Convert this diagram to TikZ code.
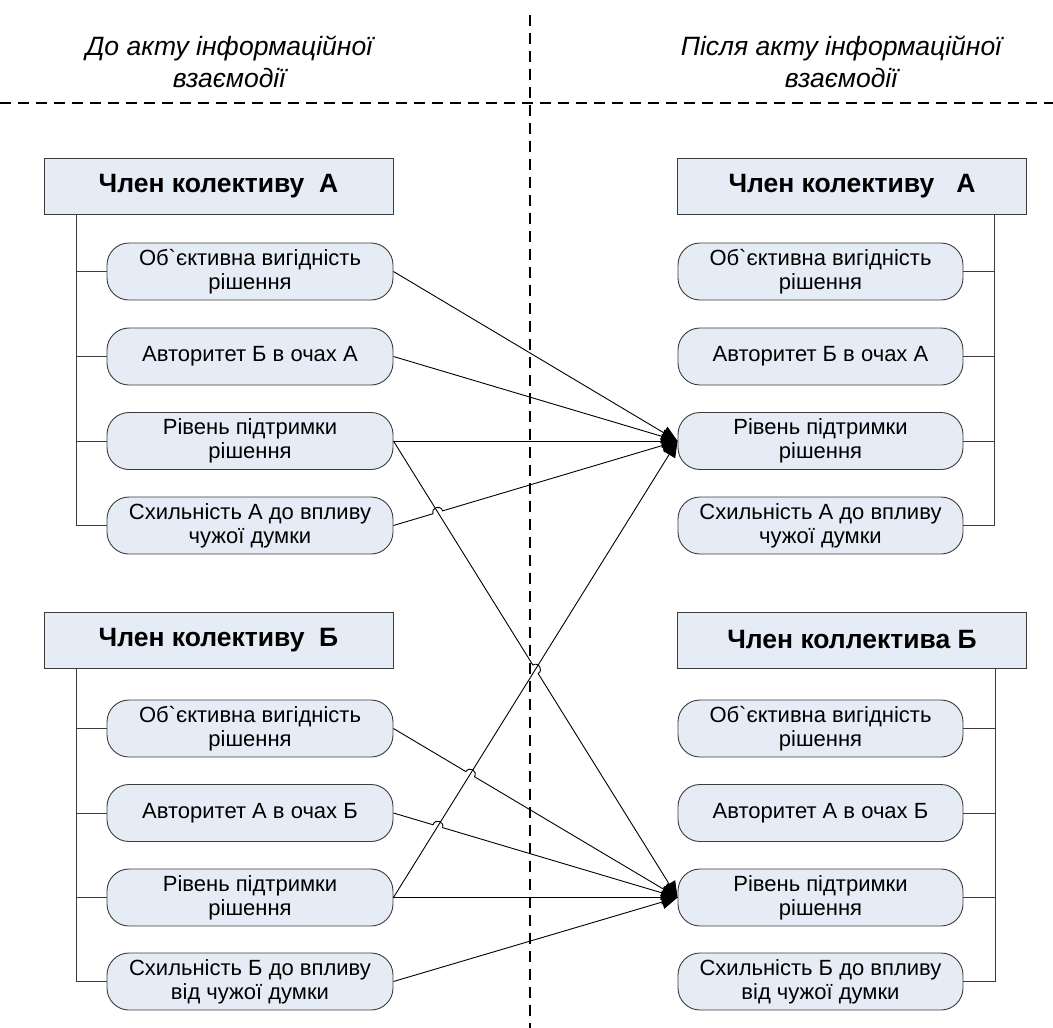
\documentclass[tikz,border=0pt]{standalone}
\usepackage{fontspec}
\newfontfamily\diafont{Liberation Sans}
\usetikzlibrary{arrows.meta,calc,intersections}
\definecolor{boxfill}{RGB}{230,236,246}
\definecolor{boxline}{RGB}{60,60,60}

% connector from #1 to #2 that hops over another connector at coordinate #3
\newcommand\linkhop[3]{%
  \coordinate (hopa) at ($(#3)!5pt!(#1.east)$);
  \coordinate (hopb) at ($(#3)!5pt!(#2.west)$);
  \coordinate (hopca) at ($(hopa)!6.67pt!90:(#3)$);
  \coordinate (hopcb) at ($(hopb)!6.67pt!-90:(#3)$);
  \draw[link] (#1.east) -- (hopa) .. controls (hopca) and (hopcb) .. (hopb) -- (#2.west);
}

\begin{document}
\begin{tikzpicture}[x=1pt,y=-1pt,
  titlebox/.style={draw=boxline, fill=boxfill, line width=0.9pt,
    minimum width=349pt, minimum height=56pt, inner sep=0pt,
    font=\diafont\bfseries\fontsize{26.5}{30}\selectfont},
  pill/.style={draw=boxline, fill=boxfill, line width=0.9pt,
    rounded corners=22pt, minimum width=286pt, minimum height=57pt,
    inner sep=0pt, align=center,
    font=\diafont\fontsize{22}{24}\selectfont},
  heading/.style={font=\diafont\itshape\fontsize{26.5}{32}\selectfont,
    align=center, inner sep=0pt},
  divider/.style={line width=1.2pt, dash pattern=on 11pt off 7pt},
  tree/.style={draw=boxline, line width=0.9pt},
  link/.style={line width=0.9pt, -{Triangle[length=16pt,width=14pt]}},
]
\useasboundingbox (0,0) rectangle (1053,1028);

% dividers
\coordinate (vtop) at (530,15);
\coordinate (vbot) at (530,1028);
\coordinate (hl) at (0,103);
\coordinate (hr) at (1053,103);
\draw[divider] (vtop) -- (vbot);
\draw[divider] (hl) -- (hr);

% headings
\node[heading] (headL) at (229,62) {До акту інформаційної\\взаємодії};
\node[heading] (headR) at (841,62) {Після акту інформаційної\\взаємодії};

% member A, before
\node[titlebox] (la) at (218.5,186) {Член колективу~~А};
\node[pill] (la1) at (250,271.5) {Об`єктивна вигідність\\рішення};
\node[pill] (la2) at (250,356.5) {Авторитет Б в очах А};
\node[pill] (la3) at (250,441) {Рівень підтримки\\рішення};
\node[pill] (la4) at (250,525.5) {Схильність А до впливу\\чужої думки};

% member B, before
\node[titlebox] (lb) at (218.5,640) {Член колективу~~Б};
\node[pill] (lb1) at (250,728.5) {Об`єктивна вигідність\\рішення};
\node[pill] (lb2) at (250,813) {Авторитет А в очах Б};
\node[pill] (lb3) at (250,897.5) {Рівень підтримки\\рішення};
\node[pill] (lb4) at (250,981.5) {Схильність Б до впливу\\від чужої думки};

% member A, after
\node[titlebox] (ra) at (852,186) {Член колективу~~~А};
\node[pill, minimum width=285pt] (ra1) at (820.5,271.5) {Об`єктивна вигідність\\рішення};
\node[pill, minimum width=285pt] (ra2) at (820.5,356.5) {Авторитет Б в очах А};
\node[pill, minimum width=285pt] (ra3) at (820.5,441) {Рівень підтримки\\рішення};
\node[pill, minimum width=285pt] (ra4) at (820.5,525.5) {Схильність А до впливу\\чужої думки};

% member B, after
\node[titlebox] (rb) at (852,640) {Член коллектива Б};
\node[pill, minimum width=285pt] (rb1) at (820.5,728.5) {Об`єктивна вигідність\\рішення};
\node[pill, minimum width=285pt] (rb2) at (820.5,813) {Авторитет А в очах Б};
\node[pill, minimum width=285pt] (rb3) at (820.5,897.5) {Рівень підтримки\\рішення};
\node[pill, minimum width=285pt] (rb4) at (820.5,981.5) {Схильність Б до впливу\\від чужої думки};

% tree lines
\coordinate (lat) at (la.south -| 76,0);
\coordinate (lbt) at (lb.south -| 76,0);
\coordinate (rat) at (ra.south -| 994,0);
\coordinate (rbt) at (rb.south -| 995,0);
\draw[tree] (lat) |- (la4.west);
\draw[tree] (lbt) |- (lb4.west);
\draw[tree] (rat) |- (ra4.east);
\draw[tree] (rbt) |- (rb4.east);
\foreach \i in {1,2,3} {
  \draw[tree] (la\i.west) -- (la\i.west -| lat);
  \draw[tree] (lb\i.west) -- (lb\i.west -| lbt);
  \draw[tree] (ra\i.east) -- (ra\i.east -| rat);
  \draw[tree] (rb\i.east) -- (rb\i.east -| rbt);
}

% crossing points of the connectors
\path[name path=pAB] (la3.east) -- (rb3.west);
\path[name path=pBA] (lb3.east) -- (ra3.west);
\path[name path=pA4] (la4.east) -- (ra3.west);
\path[name path=pB1] (lb1.east) -- (rb3.west);
\path[name path=pB2] (lb2.east) -- (rb3.west);
\path[name intersections={of=pA4 and pAB, by=xa}];
\path[name intersections={of=pB1 and pBA, by=xb}];
\path[name intersections={of=pB2 and pBA, by=xc}];
\path[name intersections={of=pAB and pBA, by=xd}];

% influences on member A
\draw[link] (la1.east) -- (ra3.west);
\draw[link] (la2.east) -- (ra3.west);
\draw[link] (la3.east) -- (ra3.west);
\linkhop{la4}{ra3}{xa}
\draw[link] (lb3.east) -- (ra3.west);

% influences on member B
\linkhop{la3}{rb3}{xd}
\linkhop{lb1}{rb3}{xb}
\linkhop{lb2}{rb3}{xc}
\draw[link] (lb3.east) -- (rb3.west);
\draw[link] (lb4.east) -- (rb3.west);
\end{tikzpicture}
\end{document}
